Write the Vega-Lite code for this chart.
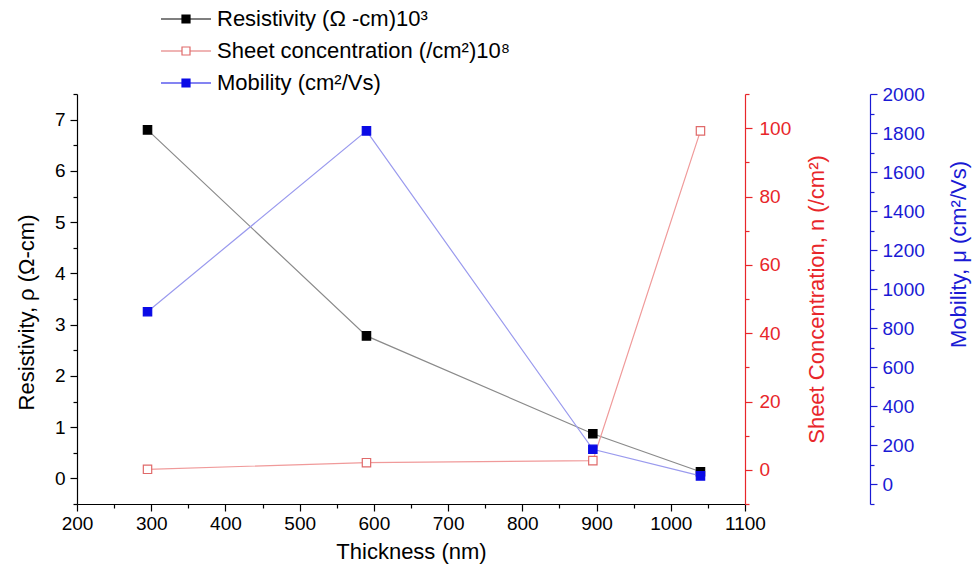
{
  "$schema": "https://vega.github.io/schema/vega-lite/v6.json",
  "width": 668,
  "height": 410,
  "autosize": {"type": "none"},
  "padding": {"left": 77, "top": 94, "right": 232, "bottom": 69},
  "background": "white",
  "config": {
    "font": "Liberation Sans",
    "view": {"stroke": null},
    "axis": {
      "labelFont": "Liberation Sans",
      "titleFont": "Liberation Sans",
      "labelFontSize": 19,
      "titleFontSize": 22,
      "titleFontWeight": "normal",
      "grid": false,
      "labelOverlap": false,
      "labelFlush": false,
      "domainWidth": 1.2,
      "tickWidth": 1.2
    }
  },
  "data": {
    "values": [
      {"t": 295, "series": "Resistivity (Ω -cm)10³", "v": 6.8},
      {"t": 590, "series": "Resistivity (Ω -cm)10³", "v": 2.78},
      {"t": 895, "series": "Resistivity (Ω -cm)10³", "v": 0.87},
      {"t": 1040, "series": "Resistivity (Ω -cm)10³", "v": 0.13},
      {"t": 295, "series": "Sheet concentration (/cm²)10⁸", "v": 0.15},
      {"t": 590, "series": "Sheet concentration (/cm²)10⁸", "v": 2.1},
      {"t": 895, "series": "Sheet concentration (/cm²)10⁸", "v": 2.7},
      {"t": 1040, "series": "Sheet concentration (/cm²)10⁸", "v": 99.2},
      {"t": 295, "series": "Mobility (cm²/Vs)", "v": 885},
      {"t": 590, "series": "Mobility (cm²/Vs)", "v": 1811},
      {"t": 895, "series": "Mobility (cm²/Vs)", "v": 180},
      {"t": 1040, "series": "Mobility (cm²/Vs)", "v": 44}
    ]
  },
  "encoding": {
    "x": {
      "field": "t",
      "type": "quantitative",
      "scale": {"domain": [200, 1100], "nice": false, "zero": false},
      "axis": {
        "title": "Thickness (nm)",
        "values": [200, 250, 300, 350, 400, 450, 500, 550, 600, 650, 700, 750, 800, 850, 900, 950, 1000, 1050, 1100],
        "labelExpr": "datum.value % 100 === 0 ? datum.label : ''",
        "format": "d",
        "tickSize": {"condition": {"test": "datum.value % 100 !== 0", "value": 4}, "value": 7},
        "labelPadding": 3,
        "titlePadding": 8,
        "domainColor": "#000000",
        "tickColor": "#000000",
        "labelColor": "#000000",
        "titleColor": "#000000"
      }
    }
  },
  "layer": [
    {
      "transform": [{"filter": "datum.series === 'Resistivity (Ω -cm)10³'"}],
      "encoding": {
        "y": {
          "field": "v",
          "type": "quantitative",
          "scale": {"domain": [-0.5, 7.5], "nice": false, "zero": false},
          "axis": {
            "orient": "left",
            "title": "Resistivity, ρ (Ω-cm)",
            "titleY": 218,
            "values": [-0.5, 0, 0.5, 1, 1.5, 2, 2.5, 3, 3.5, 4, 4.5, 5, 5.5, 6, 6.5, 7, 7.5],
            "labelExpr": "datum.value % 1 === 0 ? datum.label : ''",
            "format": ".0f",
            "tickSize": {"condition": {"test": "datum.value % 1 !== 0", "value": 4}, "value": 7},
            "labelPadding": 5,
            "titlePadding": 16,
            "domainColor": "#000000",
            "tickColor": "#000000",
            "labelColor": "#000000",
            "titleColor": "#000000"
          }
        }
      },
      "layer": [
        {"mark": {"type": "line", "color": "#8a8a8a", "strokeWidth": 1.2}},
        {
          "mark": {"type": "point", "shape": "square", "size": 70, "filled": false, "opacity": 1, "strokeWidth": 1.2},
          "encoding": {
            "color": {
              "field": "series", "type": "nominal",
              "scale": {"domain": ["Resistivity (Ω -cm)10³", "Sheet concentration (/cm²)10⁸", "Mobility (cm²/Vs)"], "range": ["#000000", "#e06a6a", "#0a0ae6"]},
              "legend": {"title": null, "orient": "none", "legendX": 98, "legendY": -86, "symbolType": "M-6.25,0H-1M1,0H6.25M-1,-1H1V1H-1Z", "symbolSize": 64, "symbolStrokeWidth": 1.2, "labelFontSize": 22, "labelFont": "Liberation Sans", "labelColor": "#000000", "labelOffset": 20, "rowPadding": 10, "labelLimit": 500}
            },
            "fill": {
              "field": "series", "type": "nominal",
              "scale": {"domain": ["Resistivity (Ω -cm)10³", "Sheet concentration (/cm²)10⁸", "Mobility (cm²/Vs)"], "range": ["#000000", "#ffffff", "#0a0ae6"]},
              "legend": {"title": null, "orient": "none", "legendX": 98, "legendY": -86, "symbolType": "M-6.25,0H-1M1,0H6.25M-1,-1H1V1H-1Z", "symbolSize": 64, "symbolStrokeWidth": 1.2, "labelFontSize": 22, "labelFont": "Liberation Sans", "labelColor": "#000000", "labelOffset": 20, "rowPadding": 10, "labelLimit": 500}
            }
          }
        }
      ]
    },
    {
      "transform": [{"filter": "datum.series === 'Sheet concentration (/cm²)10⁸'"}],
      "encoding": {
        "y": {
          "field": "v",
          "type": "quantitative",
          "scale": {"domain": [-10, 110], "nice": false, "zero": false},
          "axis": {
            "orient": "right",
            "title": "Sheet Concentration, n (/cm²)",
            "titleAngle": 270,
            "values": [-10, 0, 10, 20, 30, 40, 50, 60, 70, 80, 90, 100, 110],
            "labelExpr": "(datum.value % 20 === 0 && datum.value >= 0 && datum.value <= 100) ? datum.label : ''",
            "format": "d",
            "tickSize": {"condition": {"test": "datum.value % 20 !== 0", "value": 4}, "value": 7},
            "labelPadding": 7,
            "titlePadding": 38,
            "domainColor": "#e8262a",
            "tickColor": "#e8262a",
            "labelColor": "#e8262a",
            "titleColor": "#e8262a"
          }
        }
      },
      "layer": [
        {"mark": {"type": "line", "color": "#f09a9a", "strokeWidth": 1.2}},
        {
          "mark": {"type": "point", "shape": "square", "size": 70, "filled": false, "opacity": 1, "strokeWidth": 1.2},
          "encoding": {
            "color": {"field": "series", "type": "nominal"},
            "fill": {"field": "series", "type": "nominal"}
          }
        }
      ]
    },
    {
      "transform": [{"filter": "datum.series === 'Mobility (cm²/Vs)'"}],
      "encoding": {
        "y": {
          "field": "v",
          "type": "quantitative",
          "scale": {"domain": [-100, 2000], "nice": false, "zero": false},
          "axis": {
            "orient": "right",
            "offset": 125,
            "title": "Mobility, μ (cm²/Vs)",
            "titleAngle": 270,
            "titleY": 160,
            "values": [-100, 0, 100, 200, 300, 400, 500, 600, 700, 800, 900, 1000, 1100, 1200, 1300, 1400, 1500, 1600, 1700, 1800, 1900, 2000],
            "labelExpr": "(datum.value % 200 === 0 && datum.value >= 0) ? datum.label : ''",
            "format": "d",
            "tickSize": {"condition": {"test": "datum.value % 200 !== 0", "value": 4}, "value": 7},
            "labelPadding": 5,
            "titlePadding": 46,
            "domainColor": "#1a1ad4",
            "tickColor": "#1a1ad4",
            "labelColor": "#1a1ad4",
            "titleColor": "#1a1ad4"
          }
        }
      },
      "layer": [
        {"mark": {"type": "line", "color": "#9a9aee", "strokeWidth": 1.2}},
        {
          "mark": {"type": "point", "shape": "square", "size": 70, "filled": false, "opacity": 1, "strokeWidth": 1.2},
          "encoding": {
            "color": {"field": "series", "type": "nominal"},
            "fill": {"field": "series", "type": "nominal"}
          }
        }
      ]
    }
  ],
  "resolve": {"scale": {"y": "independent"}}
}
